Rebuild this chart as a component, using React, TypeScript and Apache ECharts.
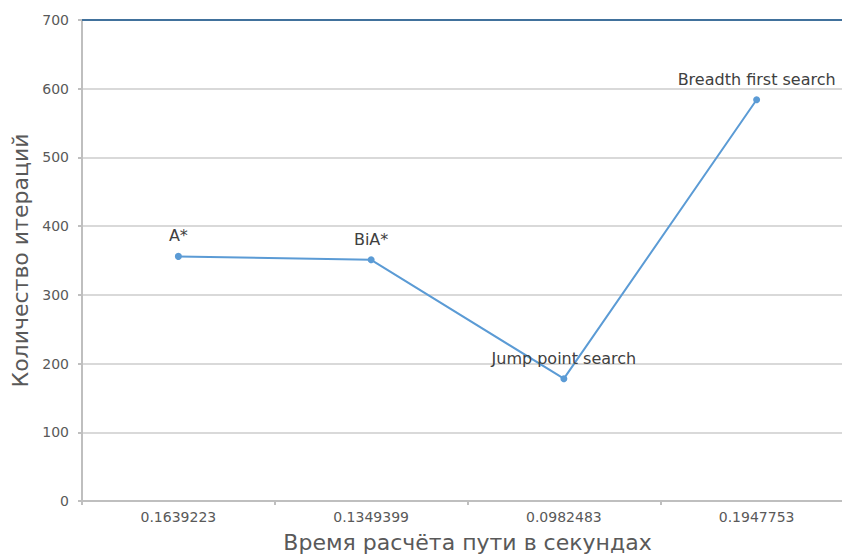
import React, { useEffect, useRef } from "react";
import * as echarts from "echarts";

const categories = ["0.1639223", "0.1349399", "0.0982483", "0.1947753"];
const algorithms = ["A*", "BiA*", "Jump point search", "Breadth first search"];
const iterations = [356, 351, 178, 584];
const yTicks = { min: 0, max: 700, interval: 100 };

export default function App() {
  const ref = useRef<HTMLDivElement>(null);
  useEffect(() => {
    if (!ref.current) return;
    document.body.style.overflow = "hidden";
    const chart = echarts.init(ref.current, undefined, { renderer: "svg" });
    const font = "'DejaVu Sans', 'Liberation Sans', Arial, sans-serif";
    chart.setOption({
      animation: false,
      backgroundColor: "#ffffff",
      grid: { left: 82, right: 0, top: 20, bottom: 53, containLabel: false },
      xAxis: {
        type: "category",
        data: categories,
        boundaryGap: true,
        name: "Время расчёта пути в секундах",
        nameLocation: "middle",
        nameGap: 30,
        nameTextStyle: { fontFamily: font, fontSize: 22, color: "#595959" },
        axisLine: { lineStyle: { color: "#bfbfbf", width: 2 } },
        axisTick: { show: true, length: 4, lineStyle: { color: "#bfbfbf", width: 2 } },
        axisLabel: { fontFamily: font, fontSize: 14, color: "#595959", margin: 9 },
      },
      yAxis: {
        type: "value",
        min: yTicks.min,
        max: yTicks.max,
        interval: yTicks.interval,
        name: "Количество итераций",
        nameLocation: "middle",
        nameGap: 47,
        nameTextStyle: { fontFamily: font, fontSize: 22, color: "#595959" },
        axisLine: { show: true, lineStyle: { color: "#bfbfbf", width: 2 } },
        axisTick: { show: true, length: 4, lineStyle: { color: "#bfbfbf", width: 2 } },
        axisLabel: { fontFamily: font, fontSize: 14, color: "#595959", margin: 13 },
        splitLine: { lineStyle: { color: "#d9d9d9", width: 2 } },
      },
      series: [
        {
          type: "line",
          data: iterations.map((v, i) => ({ value: v, name: algorithms[i] })),
          symbol: "circle",
          symbolSize: 7,
          lineStyle: { color: "#5b9bd5", width: 2 },
          itemStyle: { color: "#5b9bd5" },
          label: {
            show: true,
            position: "top",
            distance: 9,
            formatter: (p: any) => p.name,
            fontFamily: font,
            fontSize: 16,
            color: "#404040",
          },
          markLine: {
            silent: true,
            symbol: "none",
            label: { show: false },
            lineStyle: { color: "#41719c", width: 2, type: "solid" },
            data: [{ yAxis: yTicks.max }],
          },
        },
      ],
    });
    return () => chart.dispose();
  }, []);
  return (
    <div
      ref={ref}
      style={{ position: "fixed", left: 0, top: 0, width: 853, height: 558 }}
    />
  );
}
